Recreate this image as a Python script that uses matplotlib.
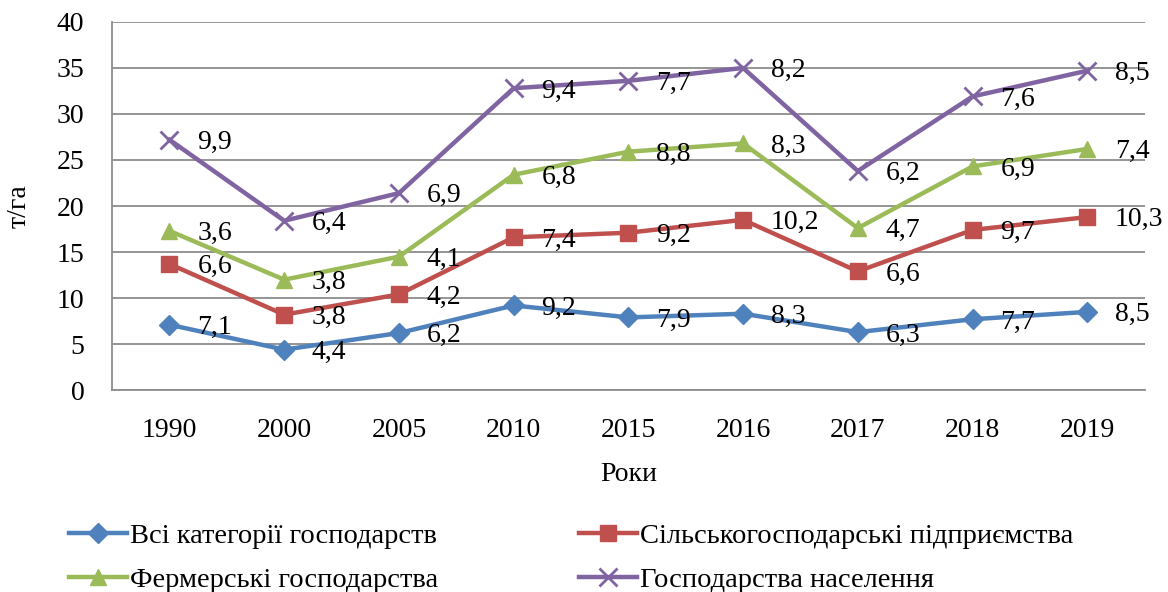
import numpy as np
import matplotlib.pyplot as plt

plt.rcParams['font.family'] = ['Liberation Serif', 'DejaVu Serif']

years = ['1990', '2000', '2005', '2010', '2015', '2016', '2017', '2018', '2019']
names = ['Всі категорії господарств', 'Сільськогосподарські підприємства',
         'Фермерські господарства', 'Господарства населення']
vsi = [7.1, 4.4, 6.2, 9.2, 7.9, 8.3, 6.3, 7.7, 8.5]
silgosp = [6.6, 3.8, 4.2, 7.4, 9.2, 10.2, 6.6, 9.7, 10.3]
fermer = [3.6, 3.8, 4.1, 6.8, 8.8, 8.3, 4.7, 6.9, 7.4]
naselennya = [9.9, 6.4, 6.9, 9.4, 7.7, 8.2, 6.2, 7.6, 8.5]

colors = ['#4F81BD', '#C0504D', '#9BBB59', '#8064A2']
markers = ['D', 's', '^', 'x']
msizes = [10, 12, 12, 13]

fig = plt.figure(figsize=(11.68, 5.92), dpi=100)
ax = fig.add_axes([0.096, 0.341, 0.884, 0.622])

x = np.arange(len(years))
series = [vsi, silgosp, fermer, naselennya]
bottom = np.zeros(len(years))
lines = []
for vals, name, c, m, ms in zip(series, names, colors, markers, msizes):
    top = bottom + np.array(vals)
    ln, = ax.plot(x, top, color=c, lw=3.2, marker=m, ms=ms, mew=2 if m == 'x' else 1,
                  mec=c, mfc=c, label=name, zorder=3)
    lines.append(ln)
    for xi, yi, v in zip(x, top, vals):
        ax.annotate(('%.1f' % v).replace('.', ','), (xi, yi), xytext=(20, -2),
                    textcoords='offset points', ha='left', va='center', fontsize=20,
                    annotation_clip=False)
    bottom = top

ax.set_xlim(-0.5, len(years) - 0.5)
ax.set_ylim(0, 40)
ax.set_yticks(range(0, 41, 5))
ax.set_xticks(x)
ax.set_xticklabels(years)
ax.tick_params(axis='both', length=0, labelsize=20)
ax.tick_params(axis='x', pad=20)
ax.tick_params(axis='y', pad=20)
ax.grid(axis='y', color='#8C8C8C', lw=1.3)
ax.set_axisbelow(True)
for s in ['top', 'right']:
    ax.spines[s].set_visible(False)
for s in ['left', 'bottom']:
    ax.spines[s].set_color('#8C8C8C')
    ax.spines[s].set_linewidth(1.3)

ax.set_xlabel('Роки', fontsize=20, labelpad=14)
ax.set_ylabel('т/га', fontsize=20, labelpad=18)

# row-wise order: matplotlib fills legend columns first
order = [0, 2, 1, 3]
fig.legend([lines[i] for i in order], [names[i] for i in order],
           loc='lower left', bbox_to_anchor=(0.037, -0.045), ncol=2, frameon=False,
           fontsize=20.5, handlelength=2.05, handletextpad=0.1, columnspacing=4.95,
           labelspacing=0.65)

fig.savefig('out.png', dpi=100)
